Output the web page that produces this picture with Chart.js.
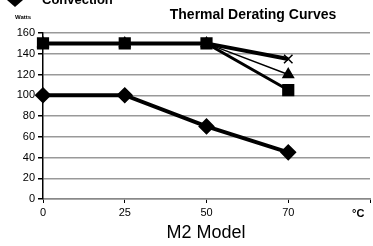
<!DOCTYPE html>
<html>
<head>
<meta charset="utf-8">
<script src="https://cdn.jsdelivr.net/npm/chart.js@4/dist/chart.umd.min.js"></script>
<style>
  html, body { margin: 0; padding: 0; background: #fff; overflow: hidden; }
  #wrap { width: 373px; height: 246px; }
</style>
</head>
<body>
<div id="wrap"><canvas id="c" width="373" height="246"></canvas></div>
<script>
const temps = ['0', '25', '50', '70', ''];
const convection = [100, 100, 70, 45, null];
const seriesSquare = [150, 150, 150, 105, null];
const seriesTriangle = [150, 150, 150, 120, null];
const seriesCross = [150, 150, 150, 135, null];
const yTicks = [0, 20, 40, 60, 80, 100, 120, 140, 160];

const FONT = '"Liberation Sans", Arial, sans-serif';

// extra texts: title, units, partial legend, model name
const textPlugin = {
    id: 'texts',
    afterDraw(chart) {
        const c = chart.ctx;
        c.save();
        c.fillStyle = '#000';
        c.textBaseline = 'alphabetic';
        c.font = 'bold 14px ' + FONT;
        c.textAlign = 'center';
        c.fillText('Thermal Derating Curves', 253, 19);
        c.font = 'bold 13px ' + FONT;
        c.textAlign = 'left';
        c.fillText('Convection', 42, 4);
        // legend marker, cut off at top
        c.beginPath();
        c.moveTo(15, -7);
        c.lineTo(23, 0);
        c.lineTo(15, 7);
        c.lineTo(7, 0);
        c.closePath();
        c.fill();
        c.font = 'bold 6px ' + FONT;
        c.fillText('Watts', 15, 19);
        c.font = 'bold 11px ' + FONT;
        c.fillText('°C', 352, 217);
        c.font = '18px ' + FONT;
        c.textAlign = 'center';
        c.fillText('M2 Model', 206, 238);
        c.restore();
    }
};

new Chart(document.getElementById('c'), {
    type: 'line',
    data: {
        labels: temps,
        datasets: [
            {
                data: convection,
                borderColor: '#000',
                backgroundColor: '#000',
                borderWidth: 4,
                pointStyle: 'rectRot',
                pointRadius: 5.5,
                tension: 0
            },
            {
                data: seriesSquare,
                borderColor: '#000',
                backgroundColor: '#000',
                borderWidth: 3,
                pointStyle: 'rect',
                pointRadius: 6.5,
                tension: 0
            },
            {
                data: seriesTriangle,
                borderColor: '#000',
                backgroundColor: '#000',
                borderWidth: 1.5,
                pointStyle: 'triangle',
                pointRadius: 6,
                tension: 0
            },
            {
                data: seriesCross,
                borderColor: '#000',
                backgroundColor: '#000',
                borderWidth: 4,
                pointStyle: 'crossRot',
                pointRadius: 6,
                pointBorderWidth: 1.5,
                tension: 0
            }
        ]
    },
    options: {
        responsive: false,
        animation: false,
        events: [],
        layout: {
            autoPadding: false,
            padding: { top: 33, right: -5, bottom: 27, left: 0 }
        },
        plugins: {
            legend: { display: false },
            title: { display: false },
            tooltip: { enabled: false }
        },
        scales: {
            x: {
                type: 'category',
                offset: false,
                afterFit(s) { s.height = 20; },
                grid: {
                    drawOnChartArea: false,
                    drawTicks: true,
                    tickLength: 4,
                    tickColor: '#000'
                },
                border: { color: '#888', width: 1.5, dash: [2, 3] },
                ticks: {
                    color: '#000',
                    font: { family: FONT, size: 11 },
                    padding: 3,
                    maxRotation: 0,
                    autoSkip: false
                }
            },
            y: {
                min: 0,
                max: 160,
                afterFit(s) { s.width = 43; },
                afterBuildTicks(s) { s.ticks = yTicks.map(v => ({ value: v })); },
                grid: {
                    color: '#999',
                    lineWidth: 1.5,
                    tickColor: '#000',
                    tickLength: 5
                },
                border: { color: '#000', width: 1.5 },
                ticks: {
                    color: '#000',
                    font: { family: FONT, size: 11 },
                    padding: 3
                }
            }
        }
    },
    plugins: [textPlugin]
});
</script>
</body>
</html>
